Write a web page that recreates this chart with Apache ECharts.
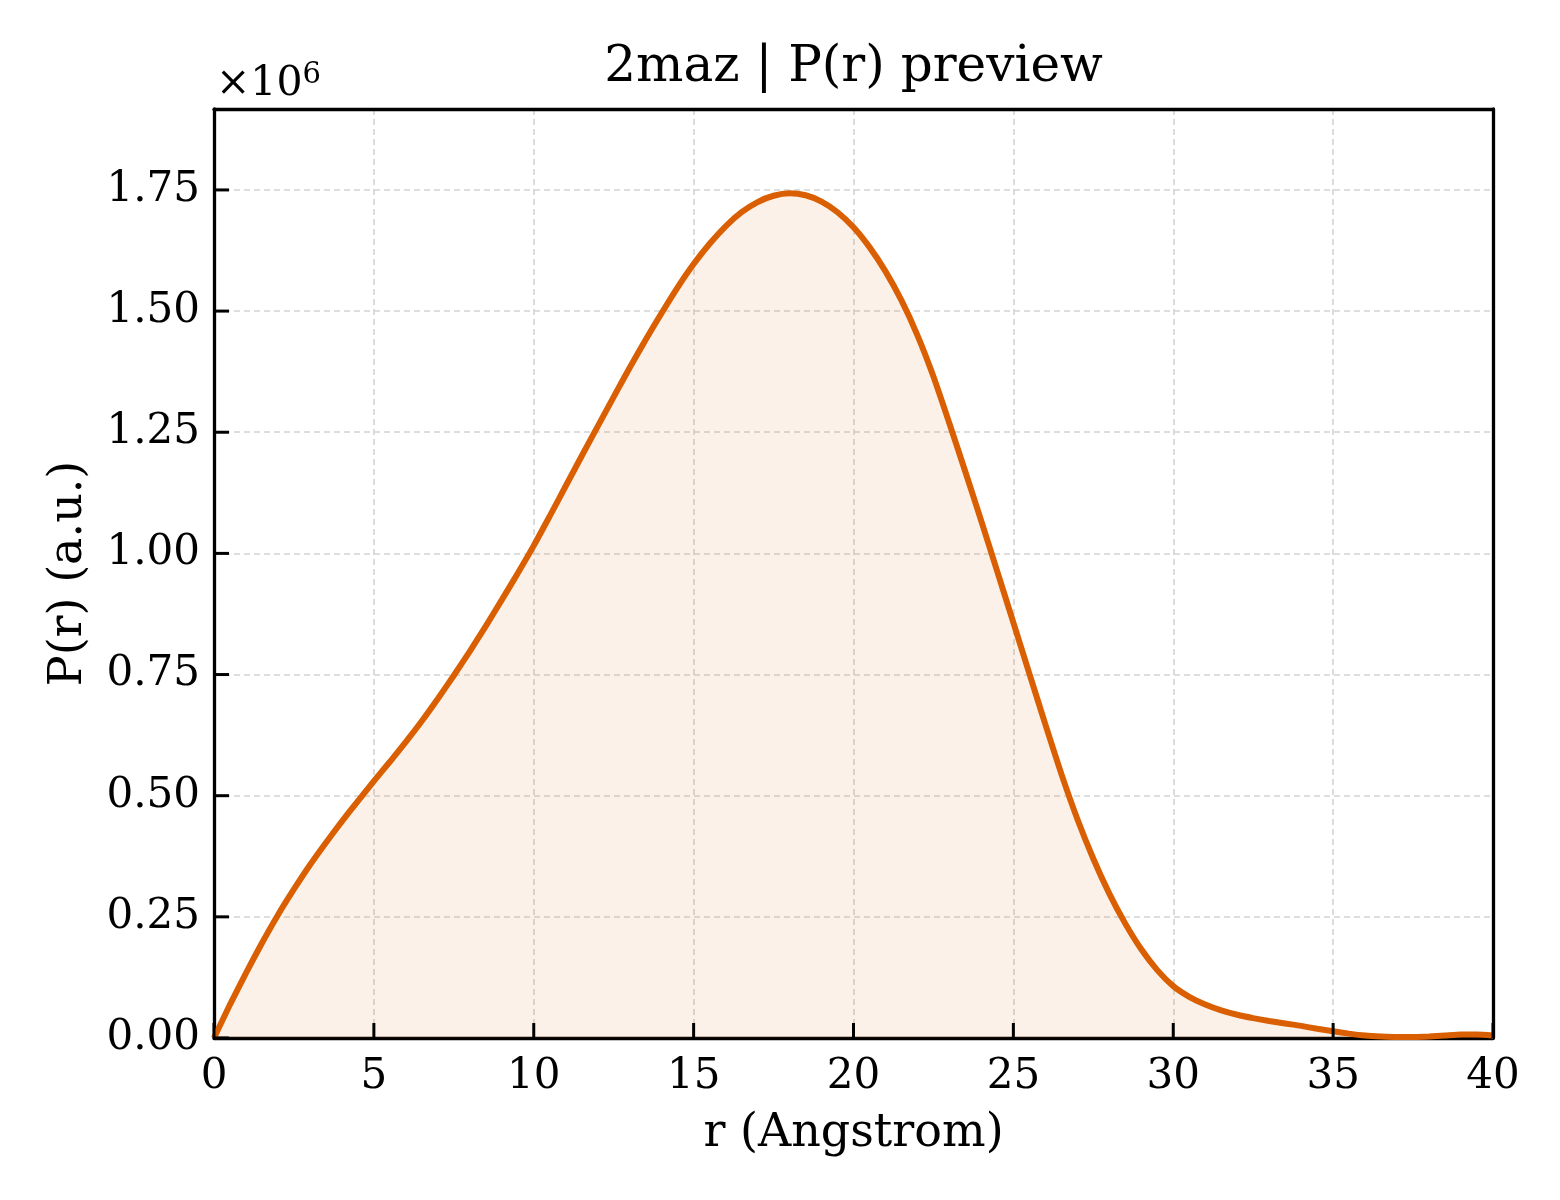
<!DOCTYPE html>
<html>
<head>
<meta charset="utf-8">
<title>2maz | P(r) preview</title>
<script src="https://cdn.jsdelivr.net/npm/echarts@6/dist/echarts.min.js"></script>
<style>
  html, body { margin: 0; padding: 0; background: #fff; }
  #chart { width: 1560px; height: 1200px; }
</style>
</head>
<body>
<div id="chart"></div>
<script>
// r in Angstrom
const rValues = [
    0, 0.5, 1, 1.5, 2, 2.5, 3, 3.5, 4, 4.5,
    5, 5.5, 6, 6.5, 7, 7.5, 8, 8.5, 9, 9.5,
    10, 10.5, 11, 11.5, 12, 12.5, 13, 13.5, 14, 14.5,
    15, 15.5, 16, 16.5, 17, 17.5, 18, 18.5, 19, 19.5,
    20, 20.5, 21, 21.5, 22, 22.5, 23, 23.5, 24, 24.5,
    25, 25.5, 26, 26.5, 27, 27.5, 28, 28.5, 29, 29.5,
    30, 30.5, 31, 31.5, 32, 32.5, 33, 33.5, 34, 34.5,
    35, 35.5, 36, 36.5, 37, 37.5, 38, 38.5, 39, 39.5, 40
];
// P(r), in units of 10^6
const prValues = [
    0, 0.069, 0.134, 0.196, 0.254, 0.307, 0.357, 0.403, 0.447, 0.489,
    0.530, 0.570, 0.611, 0.654, 0.700, 0.748, 0.798, 0.850, 0.904, 0.959,
    1.016, 1.077, 1.139, 1.201, 1.262, 1.323, 1.383, 1.441, 1.496, 1.549,
    1.597, 1.639, 1.675, 1.704, 1.725, 1.738, 1.743, 1.739, 1.726, 1.704,
    1.673, 1.632, 1.582, 1.522, 1.450, 1.365, 1.268, 1.168, 1.066, 0.962,
    0.857, 0.752, 0.647, 0.545, 0.452, 0.370, 0.298, 0.236, 0.183, 0.140,
    0.107, 0.085, 0.069, 0.057, 0.048, 0.041, 0.035, 0.030, 0.025, 0.019,
    0.014, 0.009, 0.005, 0.003, 0.002, 0.002, 0.003, 0.005, 0.007, 0.007, 0.005
];
const xTicks = [0, 5, 10, 15, 20, 25, 30, 35, 40];
const yTicks = [0, 0.25, 0.5, 0.75, 1.0, 1.25, 1.5, 1.75];

const FONT = "'DejaVu Serif', 'Liberation Serif', serif";
const lineColor = '#d95f02';
const TICK_LEN = 15;

const chart = echarts.init(document.getElementById('chart'), null, { renderer: 'canvas' });

const seriesData = rValues.map(function (r, i) { return [r, prValues[i]]; });

const spine = { show: true, onZero: false, lineStyle: { color: '#000', width: 3.3 } };
const gridLine = { show: true, lineStyle: { color: '#d4d4d4', width: 1.6, type: [6, 4] } };

// inward tick marks, placed through the axis scales
function tickRenderer(dir) {
    return function (params, api) {
        const p = api.coord([api.value(0), api.value(1)]);
        const x2 = dir === 'x' ? p[0] : p[0] + TICK_LEN;
        const y2 = dir === 'x' ? p[1] - TICK_LEN : p[1];
        return {
            type: 'line',
            shape: { x1: p[0], y1: p[1], x2: x2, y2: y2 },
            style: { stroke: '#000', lineWidth: 3 }
        };
    };
}

const option = {
    animation: false,
    backgroundColor: '#ffffff',
    grid: {
        left: 214, right: 67, top: 109, bottom: 162,
        show: false,
        outerBoundsMode: 'none'
    },
    graphic: [
        {
            type: 'text', x: 853.5, y: 68,
            style: {
                text: '2maz | P(r) preview', fill: '#000',
                font: "50px " + FONT, align: 'center', verticalAlign: 'middle'
            }
        },
        {
            type: 'text', x: 216, y: 84,
            style: {
                text: '{a|×10}{b|6}',
                align: 'left', verticalAlign: 'middle',
                rich: {
                    a: { fontFamily: FONT, fontSize: 41, fill: '#000', color: '#000' },
                    b: { fontFamily: FONT, fontSize: 29, fill: '#000', color: '#000', verticalAlign: 'top', padding: [0, 0, 18, 0] }
                }
            }
        }
    ],
    xAxis: [
        {
            type: 'value', min: 0, max: 40, interval: 5, position: 'bottom',
            name: 'r (Angstrom)', nameLocation: 'middle', nameGap: 73,
            nameTextStyle: { fontFamily: FONT, fontSize: 46, color: '#000' },
            axisLine: spine,
            axisTick: { show: false },
            axisLabel: { fontFamily: FONT, fontSize: 42, color: '#000', margin: 18, customValues: xTicks },
            splitLine: gridLine
        },
        {
            type: 'value', min: 0, max: 40, position: 'top',
            axisLine: spine, axisTick: { show: false }, axisLabel: { show: false }, splitLine: { show: false }
        }
    ],
    yAxis: [
        {
            type: 'value', min: 0, max: 1.917, interval: 0.25, position: 'left',
            name: 'P(r) (a.u.)', nameLocation: 'middle', nameGap: 122, nameRotate: 90,
            nameTextStyle: { fontFamily: FONT, fontSize: 46, color: '#000' },
            axisLine: spine,
            axisTick: { show: false },
            axisLabel: {
                fontFamily: FONT, fontSize: 42, color: '#000', margin: 14, customValues: yTicks,
                formatter: function (v) { return v.toFixed(2); }
            },
            splitLine: gridLine
        },
        {
            type: 'value', min: 0, max: 1.917, position: 'right',
            axisLine: spine, axisTick: { show: false }, axisLabel: { show: false }, splitLine: { show: false }
        }
    ],
    series: [
        {
            type: 'line',
            xAxisIndex: 0, yAxisIndex: 0,
            data: seriesData,
            smooth: 0.2,
            symbol: 'none',
            clip: true,
            lineStyle: { color: lineColor, width: 6 },
            areaStyle: { color: 'rgba(217, 95, 2, 0.13)', origin: 'start' },
            z: 3
        },
        {
            type: 'custom',
            xAxisIndex: 0, yAxisIndex: 0,
            data: xTicks.map(function (v) { return [v, 0]; }),
            renderItem: tickRenderer('x'),
            clip: false, silent: true, z: 5
        },
        {
            type: 'custom',
            xAxisIndex: 0, yAxisIndex: 0,
            data: yTicks.map(function (v) { return [0, v]; }),
            renderItem: tickRenderer('y'),
            clip: false, silent: true, z: 5
        }
    ]
};

chart.setOption(option);
</script>
</body>
</html>
